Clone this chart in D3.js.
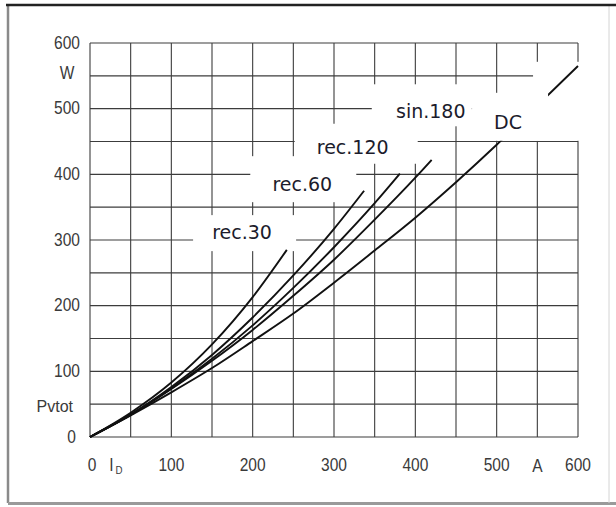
<!DOCTYPE html>
<html>
<head>
<meta charset="utf-8">
<script src="https://cdn.jsdelivr.net/npm/d3@7"></script>
<style>
  body { margin: 0; background: #fff; }
  svg { display: block; }
</style>
</head>
<body>
<div id="chart"></div>
<script>
// ---------------------------------------------------------------- data
// forward current ID (A) vs. power loss Pvtot (W)
const dc     = [[0, 0], [50, 33], [100, 68], [150, 105], [200, 146], [250, 188], [300, 235],
                [350, 284], [400, 334], [450, 388], [500, 445], [550, 505], [600, 565]];
const sin180 = [[0, 0], [50, 34], [100, 73], [150, 116], [200, 163], [250, 215], [300, 270],
                [350, 331], [400, 395], [420, 422]];
const rec120 = [[0, 0], [50, 34], [100, 74], [150, 119], [200, 170], [250, 227], [300, 289],
                [350, 356], [381, 401]];
const rec60  = [[0, 0], [50, 34], [100, 76], [150, 125], [200, 182], [250, 246], [300, 317],
                [337, 375]];
const rec30  = [[0, 0], [50, 37], [100, 83], [150, 141], [200, 213], [242, 285]];

const yTickLabels = [0, 100, 200, 300, 400, 500, 600];
const xTickLabels = [0, 100, 200, 300, 400, 500, 600];

// curve labels: name + anchor in data units (A, W)
const curveLabels = [
  { text: "rec.30",  a: 187, w: 312 },
  { text: "rec.60",  a: 261, w: 385 },
  { text: "rec.120", a: 323, w: 442 },
  { text: "sin.180", a: 419, w: 496 },
  { text: "DC",      a: 514, w: 480 }
];

// ---------------------------------------------------------------- svg
const width = 616,
  height = 507;

const svg = d3.select("#chart")
  .append("svg")
  .attr("width", width)
  .attr("height", height);

const x = d3.scaleLinear().domain([0, 600]).range([90, 578]);
const y = d3.scaleLinear().domain([0, 600]).range([437, 43]);

// frame
svg.append("line").attr("x1", 8).attr("x2", 8).attr("y1", 5).attr("y2", 503)
  .attr("stroke", "#8a8a8a").attr("stroke-width", 2.5);
svg.append("line").attr("x1", 8).attr("x2", 616).attr("y1", 503.5).attr("y2", 503.5)
  .attr("stroke", "#9a9a9a").attr("stroke-width", 3);
svg.append("line").attr("x1", 609).attr("x2", 609).attr("y1", 5).attr("y2", 503)
  .attr("stroke", "#d4d4d4").attr("stroke-width", 1);
svg.append("line").attr("x1", 6).attr("x2", 616).attr("y1", 5).attr("y2", 5)
  .attr("stroke", "#222").attr("stroke-width", 2.5);

// grid
const grid = svg.append("g")
  .attr("stroke", "#3c3c3c")
  .attr("stroke-width", 1.1);

grid.selectAll(".vx")
  .data(x.ticks(12))
  .enter()
  .append("line")
  .attr("x1", d => x(d)).attr("x2", d => x(d))
  .attr("y1", y(0)).attr("y2", y(600));

grid.selectAll(".hy")
  .data(y.ticks(12))
  .enter()
  .append("line")
  .attr("y1", d => y(d)).attr("y2", d => y(d))
  .attr("x1", x(0)).attr("x2", x(600));

// white patches behind the labels (they break the grid)
const masks = svg.append("g").attr("fill", "#fff");
const pads = {
  "rec.30":  [-49, 54, -17, 19],
  "rec.60":  [-52, 54, -28, 18],
  "rec.120": [-58, 65, -23, 17],
  "sin.180": [-59, 41, -27, 15],
  "DC":      [25, 73, -60, 19]
};
curveLabels.forEach(l => {
  const p = pads[l.text];
  masks.append("rect")
    .attr("x", x(l.a) + p[0])
    .attr("y", y(l.w) + p[2])
    .attr("width", p[1] - p[0])
    .attr("height", p[3] - p[2]);
});

// curves
const line = d3.line()
  .x(d => x(d[0]))
  .y(d => y(d[1]))
  .curve(d3.curveMonotoneX);

svg.append("g")
  .attr("fill", "none")
  .attr("stroke", "#111")
  .attr("stroke-width", 1.9)
  .selectAll("path")
  .data([dc, sin180, rec120, rec60, rec30])
  .enter()
  .append("path")
  .attr("d", line);

// the DC label box sits on top of its own curve
const dcLab = curveLabels.find(l => l.text === "DC");
svg.append("rect")
  .attr("fill", "#fff")
  .attr("x", x(dcLab.a) - 36)
  .attr("y", y(dcLab.w) - 29)
  .attr("width", 76)
  .attr("height", 48);

svg.append("g")
  .attr("font-family", "'DejaVu Sans', sans-serif")
  .attr("font-size", 19)
  .attr("fill", "#1c1c2c")
  .attr("text-anchor", "middle")
  .selectAll("text")
  .data(curveLabels)
  .enter()
  .append("text")
  .attr("x", d => x(d.a))
  .attr("y", d => y(d.w))
  .attr("dy", "0.36em")
  .text(d => d.text);

// tick labels (narrow, tall digits -> stretch a regular sans vertically)
const tickFont = "'Liberation Sans', Arial, sans-serif";
const stretch = (px, py) => `translate(${px},${py}) scale(0.97,1.15)`;

function tickText(g, px, py, txt, anchor) {
  return g.append("text")
    .attr("transform", stretch(px, py))
    .attr("text-anchor", anchor)
    .attr("dy", "0.36em")
    .text(txt);
}

const ticks = svg.append("g")
  .attr("font-family", tickFont)
  .attr("font-size", 16)
  .attr("fill", "#3a3a3a");

yTickLabels.forEach(d => tickText(ticks, d === 0 ? 76 : 80, y(d) - 1, d, "end"));
xTickLabels.forEach(d => tickText(ticks, x(d) + (d === 0 ? 2 : 0), 464, d, "middle"));

// unit / axis names
tickText(ticks, 67, y(555), "W", "middle");
tickText(ticks, x(550), 465, "A", "middle");

svg.append("text")
  .attr("font-family", tickFont).attr("font-size", 16)
  .attr("fill", "#3a3a3a")
  .attr("text-anchor", "end")
  .attr("x", 73).attr("y", y(46)).attr("dy", "0.35em")
  .text("Pvtot");

const id = ticks.append("text")
  .attr("transform", stretch(x(25) - 1, 464))
  .attr("dy", "0.36em");
id.append("tspan").text("I");
id.append("tspan").attr("font-size", 10).attr("dy", "0.3em").attr("dx", 2).text("D");
</script>
</body>
</html>
